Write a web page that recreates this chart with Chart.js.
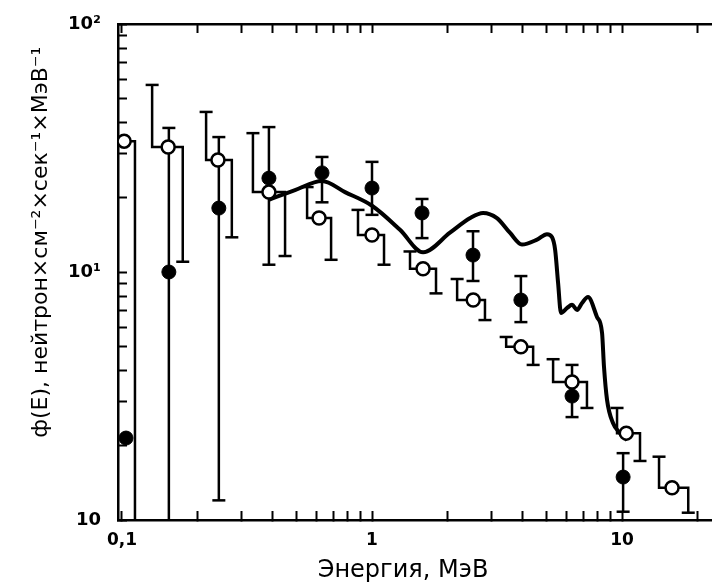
<!DOCTYPE html>
<html lang="ru">
<head>
  <meta charset="UTF-8">
  <title>Спектр нейтронов</title>
  <style>
    body { margin: 0; background: #fff; overflow: hidden; }
    canvas { display: block; }
  </style>
</head>
<body>
  <canvas id="spectrum" width="712" height="587"></canvas>

  <script src="https://cdn.jsdelivr.net/npm/chart.js@4"></script>
  <script>
    // open circles: measured spectrum drawn as histogram bins
    const openE     = [0.102, 0.153, 0.242, 0.387, 0.614, 1.00, 1.60, 2.54, 3.94, 6.31, 10.4, 15.85];
    const openPhi   = [33.7, 31.9, 28.3, 21.0, 16.5, 14.1, 10.3, 7.71, 4.99, 3.60, 2.24, 1.35];
    const openLeft  = [0.09, 0.132, 0.217, 0.334, 0.550, 0.879, 1.419, 2.19, 3.44, 5.30, 9.55, 14.06];
    const openRight = [0.1127, 0.175, 0.275, 0.449, 0.686, 1.117, 1.803, 2.83, 4.41, 7.24, 11.8, 18.4];
    const openUpper = [null, 56.8, 44.2, 36.3, 22.0, 17.8, 12.1, 9.37, 5.47, 4.45, 2.83, 1.80];
    const openLower = [0.5, 11.0, 13.8, 11.6, 11.2, 10.7, 8.2, 6.40, 4.22, 2.83, 1.73, 1.07];

    // filled circles with error bars
    const filledE     = [0.1038, 0.154, 0.244, 0.387, 0.631, 1.00, 1.585, 2.535, 3.94, 6.31, 10.1];
    const filledPhi   = [2.14, 10.0, 18.1, 23.9, 25.1, 21.8, 17.3, 11.7, 7.71, 3.16, 1.49];
    const filledUpper = [null, 38.1, 35.0, 38.4, 29.1, 27.8, 19.7, 14.6, 9.63, 4.22, 1.86];
    const filledLower = [null, 0.5, 1.2, 10.7, 19.1, 17.0, 13.7, 9.2, 6.28, 2.60, 1.08];

    // calculated curve
    const calcE   = [0.384, 0.492, 0.631, 0.780, 1.00, 1.294, 1.60, 2.05, 2.47, 2.78, 3.16, 3.56, 3.98, 4.57, 5.01, 5.25,
                     5.40, 5.55, 5.70, 6.03, 6.31, 6.61, 6.92, 7.31, 7.94, 8.32, 8.47, 8.71, 9.20, 9.82, 10.47];
    const calcPhi = [19.5, 21.4, 23.3, 21.0, 18.5, 14.8, 12.0, 14.4, 16.5, 17.3, 16.5, 14.4, 12.9, 13.5, 14.2, 13.8,
                     12.3, 9.03, 6.84, 7.16, 7.37, 7.03, 7.50, 7.93, 6.59, 5.68, 4.14, 3.05, 2.46, 2.24, 2.10];

    // axes
    const eMin = 0.0964, eMax = 22.9;
    const phiMin = 1, phiMax = 100;
    const energyTicks = [0.1, 0.2, 0.3, 0.4, 0.5, 0.6, 0.7, 0.8, 0.9, 1, 2, 3, 4, 5, 6, 7, 8, 9, 10, 20];
    const energyLabels = { 0.1: '0,1', 1: '1', 10: '10' };
    const phiTicks = [1, 2, 3, 4, 5, 6, 7, 8, 9, 10, 20, 30, 40, 50, 60, 70, 80, 90, 100];
    const phiLabels = { 1: '10', 10: '10¹', 100: '10²' };

    // step lines and error bars, split with null gaps
    const stepPts = [];
    const barPts = [];
    const caps = [];
    openE.forEach((e, i) => {
      if (openUpper[i] !== null) {
        stepPts.push({ x: openLeft[i], y: openUpper[i] });
        caps.push({ x: openLeft[i], y: openUpper[i] });
      }
      stepPts.push({ x: openLeft[i], y: openPhi[i] });
      stepPts.push({ x: openRight[i], y: openPhi[i] });
      stepPts.push({ x: openRight[i], y: openLower[i] });
      stepPts.push({ x: openRight[i], y: null });
      if (openLower[i] >= phiMin) caps.push({ x: openRight[i], y: openLower[i] });
    });
    filledE.forEach((e, i) => {
      if (filledUpper[i] === null) return;
      barPts.push({ x: e, y: filledUpper[i] });
      barPts.push({ x: e, y: filledLower[i] });
      barPts.push({ x: e, y: null });
      caps.push({ x: e, y: filledUpper[i] });
      if (filledLower[i] >= phiMin) caps.push({ x: e, y: filledLower[i] });
    });

    const inwardGrid = { drawOnChartArea: false, tickLength: -9, tickWidth: 2, tickColor: '#000' };
    const axisBorder = { color: '#000', width: 2.5 };
    const setTicks = list => s => { s.ticks = list.map(v => ({ value: v })); };

    new Chart(document.getElementById('spectrum'), {
      type: 'scatter',
      data: {
        datasets: [
          {
            data: openE.map((e, i) => ({ x: e, y: openPhi[i] })),
            pointStyle: 'circle', pointRadius: 6.5, borderWidth: 2.5,
            borderColor: '#000', backgroundColor: '#fff', order: 0
          },
          {
            data: filledE.map((e, i) => ({ x: e, y: filledPhi[i] })),
            pointStyle: 'circle', pointRadius: 7, borderWidth: 1,
            borderColor: '#000', backgroundColor: '#000', order: 1
          },
          {
            data: caps,
            pointStyle: 'line', pointRadius: 6.5, borderWidth: 2.5,
            borderColor: '#000', order: 2
          },
          {
            type: 'line', data: stepPts, borderColor: '#000', borderWidth: 2.5,
            pointRadius: 0, tension: 0, spanGaps: false, order: 3
          },
          {
            type: 'line', data: barPts, borderColor: '#000', borderWidth: 2.5,
            pointRadius: 0, tension: 0, spanGaps: false, order: 4
          },
          {
            type: 'line', data: calcE.map((e, i) => ({ x: e, y: calcPhi[i] })),
            borderColor: '#000', borderWidth: 4, pointRadius: 0,
            cubicInterpolationMode: 'monotone', order: 5
          }
        ]
      },
      options: {
        responsive: false,
        animation: false,
        layout: { padding: 0, autoPadding: false },
        plugins: { legend: { display: false }, tooltip: { enabled: false } },
        scales: {
          x: {
            type: 'logarithmic', position: 'bottom', min: eMin, max: eMax,
            afterBuildTicks: setTicks(energyTicks),
            afterFit: s => { s.height = 67; s.paddingLeft = 0; s.paddingRight = 0; },
            ticks: {
              autoSkip: false, maxRotation: 0, padding: 19, color: '#000',
              font: { family: "'DejaVu Sans'", size: 17, weight: 'bold' },
              callback: v => energyLabels[v] || ''
            },
            grid: inwardGrid,
            border: axisBorder,
            title: {
              display: true, text: 'Энергия, МэВ\u2003', color: '#000',
              font: { family: "'DejaVu Sans'", size: 24 },
              padding: { top: 0, bottom: 2 }
            }
          },
          xTop: {
            type: 'logarithmic', position: 'top', min: eMin, max: eMax,
            afterBuildTicks: setTicks(energyTicks),
            afterFit: s => { s.height = 24; s.paddingLeft = 0; s.paddingRight = 0; },
            ticks: { display: false, autoSkip: false },
            grid: inwardGrid,
            border: axisBorder
          },
          y: {
            type: 'logarithmic', position: 'left', min: phiMin, max: phiMax,
            afterBuildTicks: setTicks(phiTicks),
            afterFit: s => { s.width = 118; s.paddingTop = 0; s.paddingBottom = 0; },
            ticks: {
              autoSkip: false, padding: 26, color: '#000',
              font: { family: "'DejaVu Sans'", size: 18, weight: 'bold' },
              callback: v => phiLabels[v] || ''
            },
            grid: inwardGrid,
            border: axisBorder,
            title: {
              display: true,
              text: '\u2003\u2003\u2002\u2009ф(E), нейтрон×см⁻²×сек⁻¹×МэВ⁻¹',
              color: '#000',
              font: { family: "'DejaVu Sans'", size: 22 },
              padding: { top: 28, bottom: 0 }
            }
          }
        }
      }
    });
  </script>
</body>
</html>
